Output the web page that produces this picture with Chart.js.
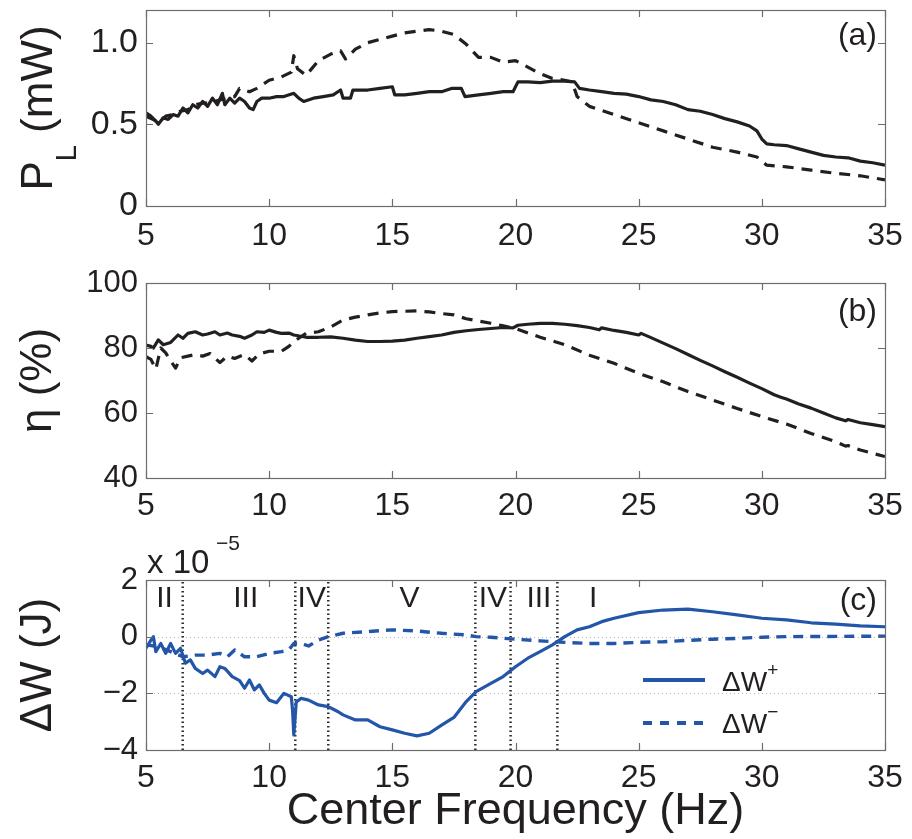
<!DOCTYPE html>
<html>
<head>
<meta charset="utf-8">
<script src="https://cdn.jsdelivr.net/npm/chart.js@4.4.1/dist/chart.umd.min.js"></script>
<style>
  body { margin: 0; background: #fff; }
  #wrap { position: relative; width: 912px; height: 839px; }
  canvas { position: absolute; left: 0; }
</style>
</head>
<body>
<div id="wrap">
  <canvas id="chartA" width="912" height="260" style="top:0"></canvas>
  <canvas id="chartB" width="912" height="260" style="top:260px"></canvas>
  <canvas id="chartC" width="912" height="319" style="top:520px"></canvas>
</div>
<script>
const xTicks = [5, 10, 15, 20, 25, 30, 35];

// (a) load power P_L (mW)
const freqPlSolid = [5.0, 5.2, 5.4, 5.5, 5.7, 5.9, 6.1, 6.3, 6.5, 6.7, 6.9, 7.1, 7.3, 7.5, 7.7, 7.9, 8.1, 8.2, 8.4, 8.6, 8.8, 9.0, 9.2, 9.35, 9.5, 9.7, 10.0, 10.3, 10.6, 11.0, 11.2, 11.4, 11.8, 12.2, 12.6, 12.9, 13.0, 13.3, 13.4, 14.0, 14.5, 15.0, 15.1, 15.5, 16.0, 16.5, 17.0, 17.4, 17.8, 17.95, 18.5, 19.0, 19.5, 19.9, 20.1, 20.5, 21.0, 21.5, 22.0, 22.4, 22.6, 23.0, 23.5, 24.0, 24.5, 25.0, 25.5, 26.0, 26.5, 27.0, 27.5, 28.0, 28.5, 29.0, 29.5, 29.8, 30.0, 30.2, 30.5, 31.0, 31.5, 32.0, 32.5, 33.0, 33.5, 34.0, 34.5, 35.0];
const plSolid = [0.57, 0.55, 0.52, 0.50, 0.54, 0.53, 0.56, 0.55, 0.60, 0.57, 0.62, 0.60, 0.64, 0.61, 0.66, 0.62, 0.69, 0.62, 0.66, 0.63, 0.66, 0.64, 0.60, 0.59, 0.64, 0.66, 0.66, 0.67, 0.67, 0.69, 0.66, 0.64, 0.66, 0.67, 0.68, 0.71, 0.66, 0.66, 0.71, 0.71, 0.72, 0.73, 0.68, 0.68, 0.69, 0.70, 0.70, 0.72, 0.72, 0.67, 0.68, 0.69, 0.70, 0.70, 0.76, 0.76, 0.755, 0.765, 0.765, 0.76, 0.72, 0.71, 0.70, 0.69, 0.685, 0.67, 0.65, 0.64, 0.62, 0.59, 0.58, 0.56, 0.535, 0.515, 0.49, 0.46, 0.41, 0.38, 0.375, 0.37, 0.35, 0.33, 0.31, 0.30, 0.295, 0.275, 0.265, 0.25];
const freqPlDashed = [5.0, 5.3, 5.5, 5.8, 6.1, 6.4, 6.7, 7.0, 7.3, 7.6, 8.0, 8.3, 8.6, 8.8, 9.2, 9.5, 10.0, 10.5, 10.9, 11.0, 11.15, 11.5, 12.0, 12.5, 12.9, 13.1, 13.5, 14.0, 14.5, 15.0, 15.5, 16.0, 16.5, 17.0, 17.5, 18.0, 18.5, 19.0, 19.5, 20.0, 20.5, 21.0, 21.5, 22.0, 22.3, 22.5, 23.0, 24.0, 25.0, 26.0, 27.0, 28.0, 29.0, 29.8, 30.2, 31.0, 32.0, 33.0, 34.0, 35.0];
const plDashed = [0.55, 0.53, 0.51, 0.55, 0.56, 0.58, 0.59, 0.62, 0.63, 0.63, 0.65, 0.66, 0.67, 0.72, 0.70, 0.72, 0.77, 0.79, 0.82, 0.92, 0.84, 0.80, 0.89, 0.93, 0.95, 0.90, 0.96, 1.00, 1.02, 1.04, 1.06, 1.07, 1.08, 1.07, 1.05, 0.99, 0.91, 0.91, 0.88, 0.89, 0.85, 0.81, 0.78, 0.77, 0.76, 0.67, 0.61, 0.56, 0.51, 0.46, 0.41, 0.36, 0.33, 0.30, 0.25, 0.24, 0.22, 0.20, 0.185, 0.16];
const plTicks = [0, 0.5, 1.0];
const plTickLabels = ['0', '0.5', '1.0'];

// (b) efficiency eta (%)
const freqEtaSolid = [5.0, 5.2, 5.3, 5.5, 5.7, 6.0, 6.3, 6.5, 6.7, 7.0, 7.3, 7.5, 7.8, 8.0, 8.3, 8.5, 8.8, 9.0, 9.3, 9.5, 9.8, 10.0, 10.3, 10.5, 10.8, 11.0, 11.5, 12.0, 12.5, 13.0, 13.5, 14.0, 14.5, 15.0, 15.5, 16.0, 16.5, 17.0, 17.5, 18.0, 18.5, 19.0, 19.5, 19.9, 20.1, 20.5, 21.0, 21.5, 22.0, 22.5, 23.0, 23.4, 23.5, 24.0, 24.5, 25.0, 25.1, 25.5, 26.0, 26.5, 27.0, 27.5, 28.0, 28.5, 29.0, 29.5, 30.0, 30.5, 30.8, 31.0, 31.5, 32.0, 32.5, 33.0, 33.4, 33.5, 34.0, 34.5, 35.0];
const etaSolid = [80.9, 80.5, 80.0, 82.5, 81.0, 81.7, 84.0, 83.0, 84.5, 85.0, 84.0, 84.3, 85.0, 84.0, 84.6, 84.0, 83.6, 83.0, 84.0, 85.0, 84.8, 85.5, 84.8, 84.5, 84.6, 84.0, 83.3, 83.3, 83.4, 83.0, 82.4, 82.0, 82.0, 82.1, 82.4, 83.0, 83.5, 84.0, 84.8, 85.3, 85.7, 86.0, 86.3, 86.2, 87.0, 87.3, 87.6, 87.6, 87.3, 86.9, 86.3, 85.6, 86.2, 85.4, 84.8, 84.0, 84.5, 83.2, 81.5, 79.8, 78.0, 76.2, 74.5, 72.7, 71.0, 69.2, 67.5, 65.6, 64.8, 64.3, 62.8, 61.5, 60.0, 58.5, 57.6, 58.0, 57.0, 56.4, 55.8];
const freqEtaDashed = [5.0, 5.2, 5.4, 5.6, 5.8, 6.0, 6.2, 6.4, 6.7, 7.0, 7.3, 7.6, 8.0, 8.3, 8.6, 9.0, 9.3, 9.6, 10.0, 10.5, 10.8, 11.0, 11.5, 12.0, 12.5, 13.0, 13.5, 14.0, 14.5, 15.0, 15.5, 16.0, 16.5, 17.0, 17.5, 18.0, 18.5, 19.0, 19.5, 20.0, 21.0, 22.0, 23.0, 24.0, 25.0, 26.0, 27.0, 28.0, 29.0, 30.0, 31.0, 32.0, 33.0, 33.4, 33.5, 34.0, 35.0];
const etaDashed = [77.3, 76.5, 73.5, 80.0, 78.5, 76.0, 73.8, 77.0, 77.5, 78.0, 77.5, 78.3, 75.5, 77.5, 76.8, 78.0, 76.0, 78.2, 79.0, 79.0, 80.5, 82.0, 84.5, 85.0, 86.5, 88.6, 89.5, 90.2, 90.8, 91.2, 91.3, 91.4, 91.1, 90.6, 90.2, 89.0, 88.3, 87.6, 86.8, 86.0, 83.3, 81.0, 77.8, 75.3, 72.2, 69.6, 66.6, 64.0, 61.4, 58.9, 56.6, 53.7, 51.2, 49.8, 50.0, 48.6, 46.6];
const etaTicks = [40, 60, 80, 100];
const etaTickLabels = ['40', '60', '80', '100'];

// (c) energy difference dW (x 1e-5 J)
const freqDwPlus = [5.0, 5.2, 5.3, 5.4, 5.6, 5.8, 6.0, 6.2, 6.4, 6.6, 6.8, 7.0, 7.3, 7.5, 7.8, 8.0, 8.2, 8.5, 8.8, 9.0, 9.2, 9.4, 9.6, 9.8, 10.0, 10.3, 10.6, 10.9, 10.95, 11.0, 11.05, 11.1, 11.3, 11.6, 12.0, 12.4, 12.8, 13.0, 13.5, 14.0, 14.5, 15.0, 15.5, 16.0, 16.5, 17.0, 17.5, 18.0, 18.4, 19.0, 19.5, 20.0, 20.5, 21.0, 21.5, 22.0, 22.5, 23.0, 23.5, 24.0, 25.0, 26.0, 27.0, 28.0, 29.0, 30.0, 31.0, 32.0, 33.0, 34.0, 35.0];
const dwPlus = [-0.41, -0.12, 0.0, -0.53, -0.24, -0.59, -0.24, -0.59, -0.41, -0.94, -0.82, -1.12, -1.30, -1.18, -1.41, -1.06, -1.12, -1.41, -1.55, -1.82, -1.53, -1.88, -1.70, -2.0, -2.24, -2.33, -2.00, -2.12, -2.6, -3.47, -2.9, -2.30, -2.18, -2.24, -2.41, -2.47, -2.65, -2.76, -2.94, -2.94, -3.18, -3.29, -3.41, -3.50, -3.41, -3.12, -2.85, -2.29, -1.94, -1.65, -1.41, -1.06, -0.76, -0.53, -0.29, 0.0, 0.24, 0.35, 0.53, 0.65, 0.85, 0.94, 0.97, 0.88, 0.77, 0.65, 0.59, 0.49, 0.44, 0.38, 0.35];
const freqDwMinus = [5.0, 5.5, 6.0, 6.5, 7.0, 7.5, 8.0, 8.3, 8.6, 9.0, 9.5, 10.0, 10.5, 10.8, 11.0, 11.3, 11.6, 12.0, 12.4, 13.0, 14.0, 15.0, 16.0, 17.0, 18.0, 18.4, 19.0, 20.0, 21.0, 22.0, 23.0, 24.0, 25.0, 26.0, 27.0, 28.0, 29.0, 30.0, 31.0, 35.0];
const dwMinus = [-0.29, -0.35, -0.53, -0.71, -0.65, -0.65, -0.59, -0.71, -0.47, -0.71, -0.71, -0.59, -0.53, -0.47, -0.24, -0.24, -0.33, -0.12, 0.0, 0.12, 0.18, 0.24, 0.20, 0.12, 0.06, 0.0, -0.02, -0.09, -0.15, -0.20, -0.24, -0.24, -0.20, -0.18, -0.13, -0.09, -0.06, -0.02, 0.0, 0.02];
const dwTicks = [-4, -2, 0, 2];
const dwTickLabels = ['\u22124', '\u22122', '0', '2'];
const regionBounds = [6.49, 11.06, 12.4, 18.37, 19.8, 21.7];
const regionNames = ['II', 'III', 'IV', 'V', 'IV', 'III', 'I'];
const regionNameX = [5.75, 9.05, 11.73, 15.7, 19.08, 20.95, 23.15];

const ink = '#231f20';
const blue = '#2356a8';
const family = '"Liberation Sans", Arial, Helvetica, sans-serif';

const pts = (xs, ys) => xs.map((x, i) => ({ x, y: ys[i] }));

const framePlugin = {
  id: 'frame',
  beforeDatasetsDraw(chart, args, o) {
    const { ctx, chartArea: a, scales: { y } } = chart;
    if (!o.gridY) return;
    ctx.save();
    ctx.strokeStyle = '#b5b5b5';
    ctx.lineWidth = 1;
    ctx.setLineDash([1, 3]);
    o.gridY.forEach(v => {
      const py = Math.round(y.getPixelForValue(v)) + 0.5;
      ctx.beginPath(); ctx.moveTo(a.left, py); ctx.lineTo(a.right, py); ctx.stroke();
    });
    ctx.restore();
  },
  afterDatasetsDraw(chart, args, o) {
    const { ctx, chartArea: a, scales: { x, y } } = chart;
    ctx.save();
    // box and inward ticks
    ctx.strokeStyle = '#6d6d6d';
    ctx.lineWidth = 1.2;
    ctx.strokeRect(a.left + 0.5, a.top + 0.5, a.right - a.left, a.bottom - a.top);
    ctx.beginPath();
    xTicks.forEach(v => {
      const px = Math.round(x.getPixelForValue(v)) + 0.5;
      ctx.moveTo(px, a.bottom); ctx.lineTo(px, a.bottom - 7);
      ctx.moveTo(px, a.top); ctx.lineTo(px, a.top + 7);
    });
    o.yTicks.forEach(v => {
      const py = Math.round(y.getPixelForValue(v)) + 0.5;
      ctx.moveTo(a.left, py); ctx.lineTo(a.left + 7, py);
      ctx.moveTo(a.right, py); ctx.lineTo(a.right - 7, py);
    });
    ctx.stroke();

    ctx.fillStyle = ink;
    ctx.textBaseline = 'alphabetic';
    // panel letter
    ctx.font = '32px ' + family;
    ctx.textAlign = 'right';
    ctx.fillText(o.letter, a.right - 8, a.top + o.letterY);

    if (o.regions) {
      ctx.font = '30px ' + family;
      ctx.textAlign = 'center';
      regionNames.forEach((t, i) => ctx.fillText(t, x.getPixelForValue(regionNameX[i]), a.top + 27));
      // exponent
      ctx.textAlign = 'left';
      ctx.font = '33px ' + family;
      ctx.fillText('x 10', a.left + 1, a.top - 7);
      ctx.font = '21px ' + family;
      ctx.fillText('\u22125', a.left + 70, a.top - 30);
      // legend
      const lx = a.left + 497, lw = 62;
      ctx.strokeStyle = blue;
      ctx.lineWidth = 4;
      ctx.beginPath(); ctx.moveTo(lx, a.top + 100); ctx.lineTo(lx + lw, a.top + 100); ctx.stroke();
      ctx.setLineDash([9, 8]);
      ctx.beginPath(); ctx.moveTo(lx, a.top + 143); ctx.lineTo(lx + lw, a.top + 143); ctx.stroke();
      ctx.setLineDash([]);
      const tx = a.left + 576;
      ctx.font = '28px ' + family;
      const w = ctx.measureText('\u0394W').width;
      ctx.fillText('\u0394W', tx, a.top + 111);
      ctx.fillText('\u0394W', tx, a.top + 153);
      ctx.font = '19px ' + family;
      ctx.fillText('+', tx + w, a.top + 96);
      ctx.fillText('\u2212', tx + w, a.top + 138);
    }

    if (o.plTitle) {
      ctx.translate(52, (a.top + a.bottom) / 2);
      ctx.rotate(-Math.PI / 2);
      ctx.font = '44px ' + family;
      const wP = ctx.measureText('P').width;
      const wRest = ctx.measureText(' (mW)').width;
      ctx.font = '29px ' + family;
      const wL = ctx.measureText('L').width;
      const x0 = -(wP + wL + wRest) / 2;
      ctx.textAlign = 'left';
      ctx.font = '44px ' + family;
      ctx.fillText('P', x0, 0);
      ctx.fillText(' (mW)', x0 + wP + wL, 0);
      ctx.font = '29px ' + family;
      ctx.fillText('L', x0 + wP, 24);
    }
    ctx.restore();
  }
};

function panel(id, p) {
  const title = t => ({ display: !!t, text: t, color: ink, font: { family, size: 44, lineHeight: 1.2 }, padding: { top: 12, bottom: 0 } });
  return new Chart(document.getElementById(id), {
    type: 'line',
    data: { datasets: p.datasets },
    plugins: [framePlugin],
    options: {
      responsive: false,
      animation: false,
      devicePixelRatio: 1,
      layout: { padding: { top: p.top, right: 27, left: 0, bottom: 0 } },
      elements: { point: { radius: 0 }, line: { tension: 0, borderJoinStyle: 'round' } },
      plugins: {
        legend: { display: false },
        tooltip: { enabled: false },
        frame: { yTicks: p.yTicks, letter: p.letter, letterY: p.letterY, gridY: p.gridY, regions: p.regions, plTitle: p.plTitle }
      },
      scales: {
        x: {
          type: 'linear', min: 5, max: 35,
          afterBuildTicks: s => { s.ticks = xTicks.map(v => ({ value: v })); },
          afterFit: s => { s.height = p.xHeight; s.paddingLeft = 0; s.paddingRight = 0; },
          ticks: { color: ink, font: { family, size: 32 }, padding: p.xPad, maxRotation: 0, autoSkip: false, callback: v => String(v) },
          grid: { display: false, drawTicks: false },
          border: { display: false },
          title: p.xTitle ? { display: true, text: p.xTitle, color: ink, font: { family, size: 45, lineHeight: 1.2 }, padding: { top: 0, bottom: 0 } } : { display: false }
        },
        y: {
          type: 'linear', min: p.yMin, max: p.yMax,
          afterBuildTicks: s => { s.ticks = p.yTicks.map(v => ({ value: v })); },
          afterFit: s => { s.width = 146; s.paddingTop = 0; s.paddingBottom = 0; },
          ticks: { color: ink, font: { family, size: p.yFont }, padding: 8, callback: (v, i) => p.yLabels[i] },
          grid: { display: false, drawTicks: false },
          border: { display: false },
          title: title(p.yTitle)
        }
      }
    }
  });
}

const solidBlack = (data) => ({ data, borderColor: ink, borderWidth: 3.2, fill: false });
const dashedBlack = (data) => ({ data, borderColor: ink, borderWidth: 3.2, borderDash: [11, 8], fill: false });

panel('chartA', {
  top: 10, xHeight: 54, xPad: 11, yMin: 0, yMax: 1.2, yTicks: plTicks, yLabels: plTickLabels, yFont: 34,
  letter: '(a)', letterY: 35, plTitle: true,
  datasets: [solidBlack(pts(freqPlSolid, plSolid)), dashedBlack(pts(freqPlDashed, plDashed))]
});

panel('chartB', {
  top: 23, xHeight: 42, xPad: 9, yMin: 40, yMax: 100, yTicks: etaTicks, yLabels: etaTickLabels, yFont: 31,
  letter: '(b)', letterY: 38, yTitle: '\u03b7 (%)',
  datasets: [solidBlack(pts(freqEtaSolid, etaSolid)), dashedBlack(pts(freqEtaDashed, etaDashed))]
});

panel('chartC', {
  top: 60, xHeight: 89, xPad: 9, yMin: -4, yMax: 2, yTicks: dwTicks, yLabels: dwTickLabels, yFont: 31,
  letter: '(c)', letterY: 30, yTitle: '\u0394W (J)', xTitle: 'Center Frequency (Hz)', gridY: [0, -2], regions: true,
  datasets: [
    { data: pts(freqDwPlus, dwPlus), borderColor: blue, borderWidth: 3.2, fill: false, order: 1 },
    { data: pts(freqDwMinus, dwMinus), borderColor: blue, borderWidth: 3.4, borderDash: [10, 7], fill: false, order: 2 },
    ...regionBounds.map(b => ({ data: [{ x: b, y: -4 }, { x: b, y: 2 }], borderColor: '#2a2a2a', borderWidth: 2.5, borderDash: [1.5, 3], fill: false, order: 3 }))
  ]
});
</script>
</body>
</html>
